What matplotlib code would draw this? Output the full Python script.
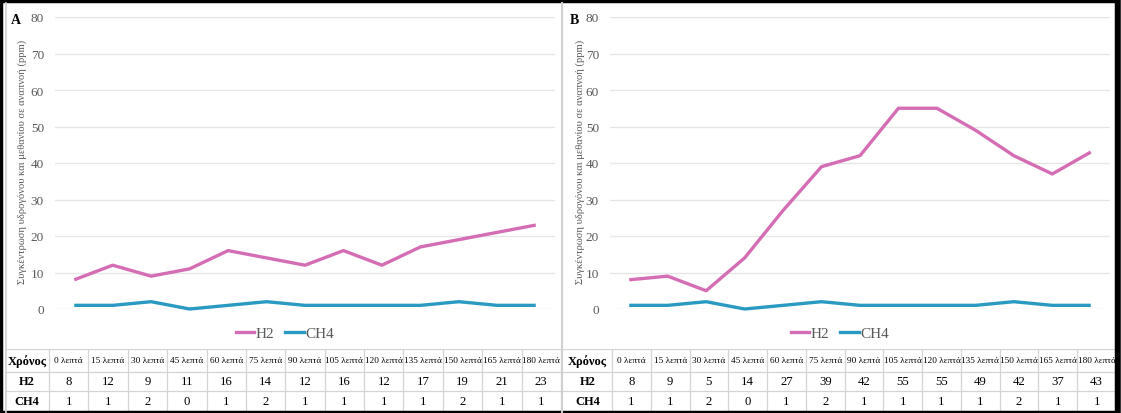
import matplotlib
matplotlib.use("Agg")
import matplotlib.pyplot as plt
from matplotlib.lines import Line2D
from matplotlib.patches import Rectangle

plt.rcParams['font.family'] = ['Liberation Serif', 'DejaVu Serif']

times = ['0 λεπτά', '15 λεπτά', '30 λεπτά', '45 λεπτά', '60 λεπτά', '75 λεπτά', '90 λεπτά',
         '105 λεπτά', '120 λεπτά', '135 λεπτά', '150 λεπτά', '165 λεπτά', '180 λεπτά']
h2_a = [8, 12, 9, 11, 16, 14, 12, 16, 12, 17, 19, 21, 23]
ch4_a = [1, 1, 2, 0, 1, 2, 1, 1, 1, 1, 2, 1, 1]
h2_b = [8, 9, 5, 14, 27, 39, 42, 55, 55, 49, 42, 37, 43]
ch4_b = [1, 1, 2, 0, 1, 2, 1, 1, 1, 1, 2, 1, 1]

ylabel = 'Συγκέντρωση υδρογόνου και μεθανίου σε αναπνοή (ppm)'
H2_COLOR = '#D46DB4'
CH4_COLOR = '#2A9AC2'
GRID = '#E6E6E6'
TABLE_LINE = '#D4D4D4'
TEXT_GRAY = '#595959'

W, H = 1121, 414
fig = plt.figure(figsize=(W / 100, H / 100), dpi=100)


def px_axes(x0, y0, x1, y1):
    return fig.add_axes([x0 / W, 1 - y1 / H, (x1 - x0) / W, (y1 - y0) / H])


def draw_chart(x0, x1, h2, ch4, letter, letter_x, label_x):
    ax = px_axes(x0, 18, x1, 310)
    xs = list(range(len(times)))
    ax.plot(xs, h2, color=H2_COLOR, lw=2.4, solid_capstyle='butt', clip_on=False, zorder=3)
    ax.plot(xs, ch4, color=CH4_COLOR, lw=2.4, solid_capstyle='butt', clip_on=False, zorder=3)
    ax.set_xlim(-0.5, len(times) - 0.5)
    ax.set_ylim(0, 80)
    ax.set_yticks(range(0, 81, 10))
    ax.set_xticks([])
    ax.grid(axis='y', color=GRID, lw=1.0)
    ax.tick_params(axis='y', length=0, pad=8, labelsize=9.5, labelcolor=TEXT_GRAY)
    for s in ax.spines.values():
        s.set_visible(False)
    ax.patch.set_alpha(0)
    fig.text(letter_x / W, 1 - 20 / H, letter, fontsize=10, fontweight='bold', ha='left', va='center')
    fig.text(label_x / W, 1 - 162 / H, ylabel, rotation=90, fontsize=7.6, color=TEXT_GRAY,
             ha='center', va='center')
    handles = [Line2D([], [], color=H2_COLOR, lw=2.4), Line2D([], [], color=CH4_COLOR, lw=2.4)]
    cx = (x0 + x1) / 2 - 20
    fig.legend(handles, ['H2', 'CH4'], loc='center', bbox_to_anchor=(cx / W, 1 - 334 / H),
               ncol=2, frameon=False, fontsize=11, handlelength=1.2, handletextpad=0.1,
               columnspacing=0.7, labelcolor=TEXT_GRAY)


def draw_table(x0, xsplit, x1, h2, ch4):
    ax = px_axes(x0, 350, x1, 413)
    ax.set_xlim(x0, x1)
    ax.set_ylim(413, 350)
    ax.axis('off')
    n = len(times)
    colw = (x1 - xsplit) / n
    rows = [(350, 373), (373, 392), (392, 413)]
    for y in (350, 373, 392):
        ax.plot([x0, x1], [y, y], color=TABLE_LINE, lw=0.9)
    for i in range(n + 1):
        xv = xsplit + i * colw
        ax.plot([xv, xv], [350, 413], color=TABLE_LINE, lw=0.9)
    heads = ['Χρόνος', 'H2', 'CH4']
    vals = [times, [str(v) for v in h2], [str(v) for v in ch4]]
    for r, (ya, yb) in enumerate(rows):
        yc = (ya + yb) / 2
        ax.text((x0 + xsplit) / 2, yc, heads[r], ha='center', va='center', fontsize=9,
                fontweight='bold')
        for i, v in enumerate(vals[r]):
            ax.text(xsplit + (i + 0.5) * colw, yc, v, ha='center', va='center',
                    fontsize=6.7 if r == 0 else 9.2)


draw_chart(55, 555, h2_a, ch4_a, 'A', 11, 22)
draw_chart(610, 1110, h2_b, ch4_b, 'B', 570, 580)
draw_table(5, 49, 561, h2_a, ch4_a)
draw_table(563, 612, 1116, h2_b, ch4_b)

# panel dividers and outer frame
fig.add_artist(Line2D([6 / W, 6 / W], [0, 1 - 4 / H], color='#D0D0D0', lw=1.2))
fig.add_artist(Line2D([562 / W, 562 / W], [0, 1 - 4 / H], color='#D0D0D0', lw=1.5))
fig.add_artist(Rectangle((1 / W, 0), 1 - 5 / W, 1 - 2 / H, transform=fig.transFigure,
                         fill=False, edgecolor='black', lw=3.2))
fig.add_artist(Line2D([1 - 3 / W, 1 - 3 / W], [0, 1], color='black', lw=4))

fig.savefig('out.png', dpi=100)
